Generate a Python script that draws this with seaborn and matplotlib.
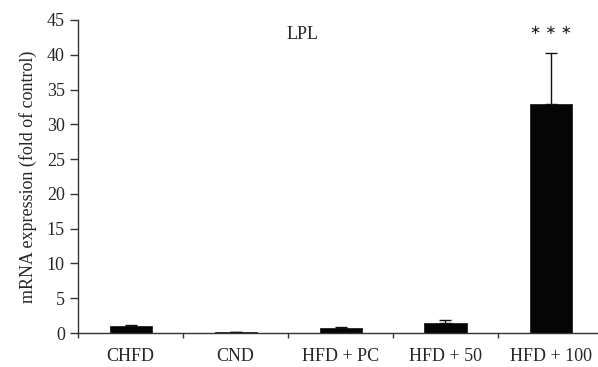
import matplotlib
matplotlib.use("Agg")
import matplotlib.pyplot as plt
import seaborn as sns
import pandas as pd
import numpy as np

categories = ["CHFD", "CND", "HFD + PC", "HFD + 50", "HFD + 100"]
means = [0.95, 0.1, 0.65, 1.5, 32.9]
errors_up = [0.15, 0.05, 0.15, 0.3, 7.4]
y_ticks = [0, 5, 10, 15, 20, 25, 30, 35, 40, 45]

sns.set_style("white")
plt.rcParams['font.family'] = ['Liberation Serif', 'DejaVu Serif']

FS = 13

fig = plt.figure(figsize=(5.98, 3.67), dpi=100)
W, H = 598, 367
ax = fig.add_axes([78 / W, 1 - 333 / H, 525 / W, 313 / H])

df = pd.DataFrame({"group": categories, "value": means})
sns.barplot(data=df, x="group", y="value", order=categories, color="#050505",
            width=0.4, errorbar=None, ax=ax, saturation=1, edgecolor="#222222", linewidth=0.6)

xpos = np.arange(len(categories))
ax.errorbar(xpos, means, yerr=[np.zeros(len(means)), errors_up], fmt="none",
            ecolor="#111111", elinewidth=1.0, capsize=4, capthick=1.0)

ax.set_xlim(-0.5, len(categories) - 0.5)
ax.set_ylim(0, 45)
ax.set_yticks(y_ticks)
ax.set_yticklabels([str(t) for t in y_ticks], fontsize=FS)

ax.set_xticks(xpos)
ax.set_xticklabels(categories, fontsize=FS)
ax.set_xticks(np.arange(len(categories) + 1) - 0.5, minor=True)
ax.tick_params(axis="x", which="major", length=0, pad=11)
ax.tick_params(axis="x", which="minor", length=3.7, width=1, color="#333333", direction="out", bottom=True)
ax.tick_params(axis="y", which="major", length=5.5, width=1, color="#333333", direction="out", left=True, pad=4)

for s in ["top", "right"]:
    ax.spines[s].set_visible(False)
for s in ["left", "bottom"]:
    ax.spines[s].set_color("#333333")
    ax.spines[s].set_linewidth(1.0)

ax.set_xlabel("")
ax.set_ylabel("mRNA expression (fold of control)", fontsize=FS, labelpad=7)

ax.text(1.64, 42.9, "LPL", ha="center", va="center", fontsize=FS)
ax.text(4, 43.5, "\u2217 \u2217 \u2217", ha="center", va="center", fontsize=9.5,
        family=["DejaVu Sans"], color="#222222")

fig.savefig("out.png", dpi=100)
